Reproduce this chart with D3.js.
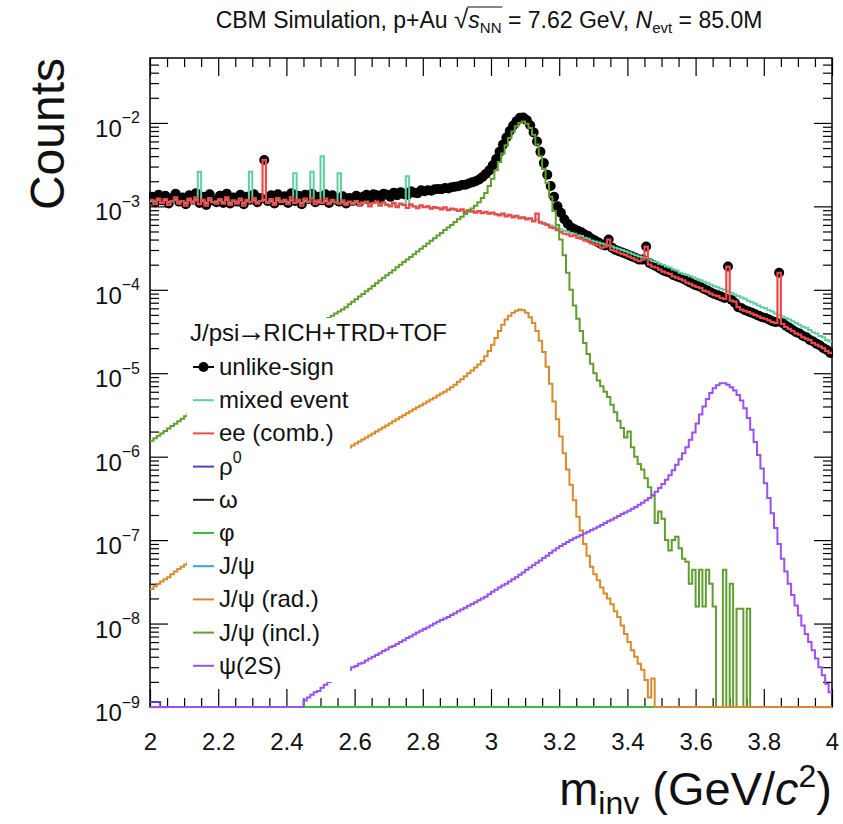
<!DOCTYPE html>
<html><head><meta charset="utf-8">
<script src="https://cdn.jsdelivr.net/npm/d3@7"></script>
<style>
body{margin:0;background:#fff}
svg{display:block}
text{font-family:"Liberation Sans",Arial,Helvetica,sans-serif;fill:#111}
</style>
</head><body>
<svg id="chart" width="843" height="824"></svg>
<script>
// ---------------- DATA ----------------
// invariant-mass histogram: 200 bins of 0.01 GeV/c^2 starting at 2.00
const binLow = 2.0, binWidth = 0.01, nBins = 200;

const unlikeSign = [
1.30e-3,1.12e-3,1.38e-3,1.18e-3,1.34e-3,1.08e-3,1.26e-3,1.42e-3,1.14e-3,1.28e-3,
1.06e-3,1.36e-3,1.20e-3,1.44e-3,1.10e-3,1.30e-3,1.04e-3,1.40e-3,1.18e-3,1.12e-3,
1.34e-3,1.10e-3,1.42e-3,1.08e-3,1.28e-3,1.14e-3,1.38e-3,1.06e-3,1.30e-3,1.20e-3,
1.40e-3,1.12e-3,1.26e-3,3.6e-3,1.16e-3,1.36e-3,1.08e-3,1.40e-3,1.18e-3,1.32e-3,
1.10e-3,1.44e-3,1.16e-3,1.34e-3,1.06e-3,1.38e-3,1.22e-3,1.42e-3,1.12e-3,1.30e-3,
1.18e-3,1.40e-3,1.10e-3,1.36e-3,1.20e-3,1.14e-3,1.32e-3,1.08e-3,1.26e-3,1.16e-3,
1.34e-3,1.14e-3,1.30e-3,1.38e-3,1.18e-3,1.40e-3,1.36e-3,1.24e-3,1.42e-3,1.38e-3,
1.30e-3,1.46e-3,1.36e-3,1.48e-3,1.40e-3,1.38e-3,1.52e-3,1.46e-3,1.44e-3,1.56e-3,
1.52e-3,1.56e-3,1.54e-3,1.60e-3,1.62e-3,1.60e-3,1.66e-3,1.64e-3,1.70e-3,1.72e-3,
1.74e-3,1.80e-3,1.82e-3,1.88e-3,1.94e-3,2.00e-3,2.10e-3,2.25e-3,2.45e-3,2.70e-3,
3.1e-3,3.7e-3,4.5e-3,5.5e-3,6.7e-3,8.0e-3,9.3e-3,1.05e-2,1.15e-2,1.16e-2,
1.08e-2,9.4e-3,7.7e-3,6.0e-3,4.5e-3,3.3e-3,2.4e-3,1.75e-3,1.3e-3,1.0e-3,
8.4e-4,7.0e-4,6.2e-4,5.6e-4,5.3e-4,5.1e-4,4.9e-4,4.6e-4,4.4e-4,4.1e-4,
3.9e-4,3.7e-4,3.5e-4,3.4e-4,4.0e-4,3.2e-4,3.0e-4,2.9e-4,2.8e-4,2.7e-4,
2.6e-4,2.5e-4,2.4e-4,2.3e-4,2.3e-4,3.3e-4,2.1e-4,2.0e-4,1.9e-4,1.8e-4,
1.7e-4,1.65e-4,1.6e-4,1.5e-4,1.45e-4,1.4e-4,1.35e-4,1.28e-4,1.22e-4,1.16e-4,
1.12e-4,1.08e-4,1.02e-4,9.8e-5,9.3e-5,8.9e-5,8.6e-5,8.3e-5,8.0e-5,1.9e-4,
7.6e-5,7.0e-5,6.2e-5,6.0e-5,5.7e-5,5.5e-5,5.3e-5,5.1e-5,4.9e-5,4.7e-5,
4.6e-5,4.4e-5,4.2e-5,4.1e-5,1.6e-4,4.0e-5,3.7e-5,3.5e-5,3.3e-5,3.1e-5,
3.0e-5,2.8e-5,2.7e-5,2.5e-5,2.4e-5,2.25e-5,2.15e-5,2.0e-5,1.9e-5,1.75e-5
];

const mixedEvent = [
1.16e-3,1.14e-3,1.20e-3,1.10e-3,1.18e-3,1.12e-3,1.14e-3,1.20e-3,1.12e-3,1.16e-3,
1.10e-3,1.18e-3,1.14e-3,1.20e-3,2.6e-3,1.16e-3,1.10e-3,1.18e-3,1.12e-3,1.14e-3,
1.18e-3,1.12e-3,1.20e-3,1.10e-3,1.16e-3,1.12e-3,1.18e-3,1.10e-3,1.16e-3,2.6e-3,
1.18e-3,1.12e-3,1.16e-3,1.20e-3,1.12e-3,1.16e-3,1.10e-3,1.18e-3,1.14e-3,1.16e-3,
1.12e-3,1.18e-3,2.5e-3,1.14e-3,1.10e-3,1.16e-3,1.12e-3,2.6e-3,1.14e-3,1.12e-3,
4.0e-3,1.16e-3,1.10e-3,1.14e-3,1.12e-3,2.5e-3,1.12e-3,1.08e-3,1.12e-3,1.10e-3,
1.12e-3,1.08e-3,1.10e-3,1.12e-3,1.06e-3,1.10e-3,1.10e-3,1.06e-3,1.08e-3,1.06e-3,
1.04e-3,1.06e-3,1.02e-3,1.06e-3,1.04e-3,2.3e-3,1.02e-3,1.00e-3,0.98e-3,1.00e-3,
0.98e-3,0.99e-3,0.96e-3,0.97e-3,0.95e-3,0.94e-3,0.95e-3,0.92e-3,0.93e-3,0.91e-3,
0.90e-3,0.90e-3,0.88e-3,0.89e-3,0.87e-3,0.86e-3,0.86e-3,0.84e-3,0.85e-3,0.83e-3,
0.83e-3,0.81e-3,0.80e-3,0.80e-3,0.78e-3,0.78e-3,0.76e-3,0.76e-3,0.74e-3,0.73e-3,
0.72e-3,0.71e-3,0.68e-3,0.70e-3,0.66e-3,0.63e-3,0.61e-3,0.59e-3,0.57e-3,0.55e-3,
5.3e-4,5.1e-4,5.0e-4,4.8e-4,4.7e-4,4.5e-4,4.4e-4,4.2e-4,4.1e-4,3.9e-4,
3.8e-4,3.7e-4,3.6e-4,3.5e-4,3.4e-4,3.3e-4,3.2e-4,3.1e-4,3.0e-4,2.9e-4,
2.8e-4,2.7e-4,2.6e-4,2.5e-4,2.45e-4,2.4e-4,2.3e-4,2.2e-4,2.15e-4,2.05e-4,
2.0e-4,1.9e-4,1.85e-4,1.75e-4,1.7e-4,1.6e-4,1.55e-4,1.5e-4,1.45e-4,1.4e-4,
1.35e-4,1.3e-4,1.25e-4,1.2e-4,1.15e-4,1.1e-4,1.07e-4,1.03e-4,1.0e-4,9.6e-5,
9.2e-5,8.8e-5,8.4e-5,8.1e-5,7.8e-5,7.4e-5,7.1e-5,6.8e-5,6.5e-5,6.2e-5,
6.0e-5,5.7e-5,5.5e-5,5.2e-5,5.0e-5,4.8e-5,4.6e-5,4.4e-5,4.2e-5,4.0e-5,
3.8e-5,3.6e-5,3.5e-5,3.3e-5,3.1e-5,3.0e-5,2.8e-5,2.7e-5,2.5e-5,2.4e-5
];

const eeComb = [
1.20e-3,1.06e-3,1.24e-3,1.10e-3,1.22e-3,1.04e-3,1.16e-3,1.28e-3,1.08e-3,1.16e-3,
1.02e-3,1.24e-3,1.10e-3,1.28e-3,1.06e-3,1.20e-3,1.02e-3,1.26e-3,1.12e-3,1.08e-3,
1.22e-3,1.08e-3,1.28e-3,1.04e-3,1.18e-3,1.08e-3,1.24e-3,1.02e-3,1.20e-3,1.12e-3,
1.26e-3,1.08e-3,1.16e-3,3.6e-3,1.10e-3,1.22e-3,1.04e-3,1.26e-3,1.12e-3,1.20e-3,
1.06e-3,1.28e-3,1.10e-3,1.20e-3,1.02e-3,1.24e-3,1.14e-3,1.26e-3,1.06e-3,1.18e-3,
1.10e-3,1.24e-3,1.06e-3,1.20e-3,1.12e-3,1.08e-3,1.18e-3,1.04e-3,1.14e-3,1.06e-3,
1.16e-3,1.02e-3,1.12e-3,1.14e-3,1.00e-3,1.10e-3,1.14e-3,1.02e-3,1.12e-3,1.04e-3,
1.00e-3,1.10e-3,0.98e-3,1.08e-3,1.04e-3,0.96e-3,1.06e-3,1.00e-3,0.95e-3,1.03e-3,
0.98e-3,1.00e-3,0.94e-3,0.98e-3,0.96e-3,0.92e-3,0.97e-3,0.90e-3,0.94e-3,0.92e-3,
0.88e-3,0.92e-3,0.86e-3,0.90e-3,0.87e-3,0.84e-3,0.88e-3,0.83e-3,0.86e-3,0.82e-3,
0.84e-3,0.80e-3,0.78e-3,0.82e-3,0.76e-3,0.79e-3,0.74e-3,0.77e-3,0.72e-3,0.74e-3,
0.70e-3,0.72e-3,0.66e-3,0.82e-3,0.64e-3,0.62e-3,0.60e-3,0.56e-3,0.55e-3,0.52e-3,
4.9e-4,4.7e-4,4.6e-4,4.4e-4,4.5e-4,4.2e-4,4.1e-4,3.9e-4,3.8e-4,3.6e-4,
3.5e-4,3.4e-4,3.2e-4,3.3e-4,4.0e-4,3.0e-4,2.9e-4,2.8e-4,2.7e-4,2.6e-4,
2.5e-4,2.4e-4,2.3e-4,2.2e-4,2.3e-4,3.3e-4,2.0e-4,1.9e-4,1.85e-4,1.75e-4,
1.65e-4,1.6e-4,1.55e-4,1.45e-4,1.4e-4,1.35e-4,1.3e-4,1.22e-4,1.18e-4,1.12e-4,
1.08e-4,1.05e-4,9.8e-5,9.5e-5,9.0e-5,8.6e-5,8.4e-5,8.0e-5,7.8e-5,1.9e-4,
7.4e-5,7.2e-5,6.2e-5,5.8e-5,5.6e-5,5.4e-5,5.2e-5,5.0e-5,4.8e-5,4.6e-5,
4.5e-5,4.3e-5,4.1e-5,4.0e-5,1.6e-4,3.9e-5,3.6e-5,3.4e-5,3.2e-5,3.0e-5,
2.9e-5,2.7e-5,2.6e-5,2.5e-5,2.3e-5,2.2e-5,2.1e-5,2.0e-5,1.85e-5,1.75e-5
];

// cocktail components (empty histograms have no entries in this window)
const rho0 = [1.15e-9,1.15e-9,1.15e-9];
const omegaMeson = [];
const phiMeson = [];
const jpsi = [];

const jpsiRad = [
2.6e-8,2.8e-8,3.0e-8,3.2e-8,3.4e-8,3.6e-8,3.9e-8,4.2e-8,4.5e-8,4.8e-8,
5.1e-8,5.5e-8,5.9e-8,6.3e-8,6.7e-8,7.2e-8,7.7e-8,8.2e-8,8.8e-8,9.4e-8,
1.0e-7,1.07e-7,1.15e-7,1.23e-7,1.31e-7,1.4e-7,1.5e-7,1.6e-7,1.72e-7,1.84e-7,
1.97e-7,2.1e-7,2.25e-7,2.4e-7,2.57e-7,2.75e-7,2.95e-7,3.15e-7,3.37e-7,3.6e-7,
3.86e-7,4.13e-7,4.4e-7,4.7e-7,5.0e-7,5.4e-7,5.8e-7,6.2e-7,6.6e-7,7.1e-7,
7.6e-7,8.1e-7,8.7e-7,9.3e-7,9.9e-7,1.06e-6,1.13e-6,1.21e-6,1.29e-6,1.36e-6,
1.44e-6,1.52e-6,1.61e-6,1.7e-6,1.8e-6,1.9e-6,2.0e-6,2.12e-6,2.24e-6,2.37e-6,
2.5e-6,2.65e-6,2.8e-6,2.96e-6,3.13e-6,3.31e-6,3.5e-6,3.7e-6,3.9e-6,4.1e-6,
4.35e-6,4.6e-6,4.85e-6,5.1e-6,5.4e-6,5.7e-6,6.0e-6,6.4e-6,6.8e-6,7.3e-6,
7.9e-6,8.5e-6,9.2e-6,1.0e-5,1.08e-5,1.17e-5,1.27e-5,1.4e-5,1.6e-5,1.85e-5,
2.2e-5,2.65e-5,3.2e-5,3.8e-5,4.4e-5,4.9e-5,5.3e-5,5.6e-5,5.8e-5,5.7e-5,
5.3e-5,4.7e-5,4.0e-5,3.2e-5,2.45e-5,1.8e-5,1.2e-5,7.5e-6,4.6e-6,2.8e-6,
1.75e-6,1.1e-6,7.0e-7,4.6e-7,3.0e-7,1.9e-7,1.3e-7,9.0e-8,6.5e-8,4.8e-8,
3.9e-8,3.3e-8,2.7e-8,2.3e-8,2.0e-8,1.7e-8,1.4e-8,1.2e-8,9.5e-9,7.5e-9,
6.0e-9,4.8e-9,4.0e-9,3.3e-9,2.8e-9,2.1e-9,1.3e-9,2.2e-9,0,0,
0,0,0,0,0,0,0,0,0,0,
0,0,0,0,0,0,0,0,0,0,
0,0,0,0,0,0,0,0,0,0,
0,0,0,0,0,0,0,0,0,0,
0,0,0,0,0,0,0,0,0,0
];

const jpsiIncl = [
1.55e-6,1.66e-6,1.78e-6,1.9e-6,2.03e-6,2.17e-6,2.33e-6,2.49e-6,2.66e-6,2.85e-6,
3.05e-6,3.26e-6,3.5e-6,3.7e-6,4.0e-6,4.3e-6,4.6e-6,4.9e-6,5.2e-6,5.6e-6,
6.0e-6,6.4e-6,6.8e-6,7.3e-6,7.8e-6,8.3e-6,8.8e-6,9.4e-6,1.0e-5,1.07e-5,
1.14e-5,1.22e-5,1.3e-5,1.38e-5,1.47e-5,1.57e-5,1.67e-5,1.78e-5,1.9e-5,2.03e-5,
2.16e-5,2.3e-5,2.45e-5,2.6e-5,2.8e-5,2.95e-5,3.15e-5,3.36e-5,3.58e-5,3.8e-5,
4.05e-5,4.3e-5,4.6e-5,4.9e-5,5.2e-5,5.5e-5,5.8e-5,6.2e-5,6.7e-5,7.2e-5,
7.7e-5,8.3e-5,8.9e-5,9.6e-5,1.03e-4,1.11e-4,1.2e-4,1.29e-4,1.39e-4,1.49e-4,
1.6e-4,1.72e-4,1.86e-4,2.0e-4,2.15e-4,2.3e-4,2.48e-4,2.67e-4,2.88e-4,3.1e-4,
3.33e-4,3.58e-4,3.86e-4,4.15e-4,4.47e-4,4.8e-4,5.2e-4,5.6e-4,6.0e-4,6.5e-4,
7.0e-4,7.5e-4,8.1e-4,8.7e-4,9.4e-4,1.02e-3,1.12e-3,1.26e-3,1.45e-3,1.75e-3,
2.15e-3,2.7e-3,3.4e-3,4.3e-3,5.4e-3,6.6e-3,7.9e-3,9.1e-3,1.0e-2,1.04e-2,
9.8e-3,8.7e-3,7.2e-3,5.5e-3,4.0e-3,2.8e-3,1.9e-3,1.3e-3,8.8e-4,6.0e-4,
4.0e-4,2.6e-4,1.6e-4,1.0e-4,6.5e-5,4.5e-5,3.2e-5,2.3e-5,1.7e-5,1.3e-5,
1.0e-5,8.2e-6,7.0e-6,6.0e-6,5.2e-6,4.2e-6,3.4e-6,2.7e-6,2.2e-6,1.7e-6,
2.0e-6,1.3e-6,1.0e-6,8.2e-7,7.0e-7,5.5e-7,4.3e-7,3.4e-7,1.6e-7,2.2e-7,
1.8e-7,1.0e-7,7.5e-8,1.0e-7,1.1e-7,8.0e-8,6.0e-8,5.5e-8,3.0e-8,4.4e-8,
1.6e-8,4.4e-8,1.6e-8,4.4e-8,3.0e-8,1.6e-8,0,0,4.4e-8,0,
3.0e-8,0,1.5e-8,1.5e-8,0,1.5e-8,0,0,0,0,
0,0,0,0,0,0,0,0,0,0,
0,0,0,0,0,0,0,0,0,0
];

const psi2S = [
0,0,0,0,0,0,0,0,0,0,
0,0,0,0,0,0,0,0,0,0,
0,0,0,0,0,0,0,0,0,0,
0,0,0,0,0,0,0,0,0,0,
0,0,0,0,0,1.2e-9,1.3e-9,1.4e-9,1.5e-9,1.55e-9,
1.7e-9,1.85e-9,2.0e-9,2.1e-9,2.2e-9,2.35e-9,2.5e-9,2.6e-9,2.8e-9,3.0e-9,
3.1e-9,3.3e-9,3.4e-9,3.6e-9,3.8e-9,4.0e-9,4.2e-9,4.4e-9,4.7e-9,4.9e-9,
5.2e-9,5.4e-9,5.7e-9,6.0e-9,6.3e-9,6.7e-9,7.0e-9,7.4e-9,7.8e-9,8.2e-9,
8.6e-9,9.0e-9,9.5e-9,1.0e-8,1.05e-8,1.1e-8,1.15e-8,1.2e-8,1.27e-8,1.33e-8,
1.4e-8,1.47e-8,1.55e-8,1.63e-8,1.72e-8,1.8e-8,1.9e-8,2.0e-8,2.1e-8,2.25e-8,
2.4e-8,2.55e-8,2.7e-8,2.85e-8,3.0e-8,3.2e-8,3.4e-8,3.6e-8,3.85e-8,4.1e-8,
4.4e-8,4.7e-8,5.0e-8,5.35e-8,5.7e-8,6.1e-8,6.5e-8,7.0e-8,7.5e-8,8.0e-8,
8.5e-8,9.0e-8,9.5e-8,1.0e-7,1.05e-7,1.1e-7,1.15e-7,1.2e-7,1.26e-7,1.32e-7,
1.38e-7,1.45e-7,1.52e-7,1.6e-7,1.68e-7,1.76e-7,1.85e-7,1.95e-7,2.05e-7,2.15e-7,
2.25e-7,2.37e-7,2.5e-7,2.65e-7,2.8e-7,3.0e-7,3.2e-7,3.5e-7,3.8e-7,4.2e-7,
4.7e-7,5.3e-7,6.0e-7,6.9e-7,8.0e-7,9.3e-7,1.1e-6,1.3e-6,1.6e-6,1.95e-6,
2.5e-6,3.2e-6,4.0e-6,4.9e-6,5.8e-6,6.6e-6,7.2e-6,7.6e-6,7.6e-6,7.3e-6,
6.8e-6,6.2e-6,5.5e-6,4.7e-6,3.8e-6,2.9e-6,2.1e-6,1.5e-6,1.05e-6,7.2e-7,
4.8e-7,3.2e-7,2.1e-7,1.4e-7,9.0e-8,6.0e-8,4.2e-8,3.0e-8,2.2e-8,1.65e-8,
1.25e-8,9.5e-9,7.5e-9,6.0e-9,4.8e-9,3.8e-9,3.0e-9,2.4e-9,1.9e-9,1.5e-9
];

const xMajorTicks = [2, 2.2, 2.4, 2.6, 2.8, 3, 3.2, 3.4, 3.6, 3.8, 4];
const yDecadeTicks = [1e-9, 1e-8, 1e-7, 1e-6, 1e-5, 1e-4, 1e-3, 1e-2];
const yExponents = [-9, -8, -7, -6, -5, -4, -3, -2];
const legendNames = ["unlike-sign","mixed event","ee (comb.)","\u03c1","\u03c9","\u03c6","J/\u03c8","J/\u03c8 (rad.)","J/\u03c8 (incl.)","\u03c8(2S)"];

// ---------------- LAYOUT / STYLE ----------------
const L = 150, R = 832, T = 58, B = 707;
const yMin = 1e-9, yMax = 0.06;
const svg = d3.select("#chart");
const x = d3.scaleLinear().domain([2, 4]).range([L, R]);
const y = d3.scaleLog().domain([yMin, yMax]).range([B, T]);

const col = {
  mixed: "#5fcf9f", ee: "#ef4a4a", rho: "#4b45c8", omega: "#222222",
  phi: "#3dbb3d", jpsi: "#3aa0e0", rad: "#d98a2b", incl: "#5f9e2f", psi2s: "#9b50f0"
};
const FONT = '"Liberation Sans",Arial,sans-serif';

// frame
svg.append("rect").attr("x", L).attr("y", T).attr("width", R - L).attr("height", B - T)
  .attr("fill", "none").attr("stroke", "#000").attr("stroke-width", 1.5);

// minor tick values
const xMinor = d3.range(0, 41).map(i => 2 + i * 0.05).filter(v => Math.abs(v*5 - Math.round(v*5)) > 1e-6);
const yMinor = [];
for (let e = -9; e <= -2; e++) for (let k = 2; k <= 9; k++) { const v = k * Math.pow(10, e); if (v < yMax) yMinor.push(v); }

function styleAxis(g) {
  g.select(".domain").remove();
  g.selectAll(".tick line").attr("stroke", "#000").attr("stroke-width", 1.2);
}
// bottom
svg.append("g").attr("transform", `translate(0,${B})`)
  .call(d3.axisBottom(x).tickValues(xMajorTicks).tickSize(-18).tickSizeOuter(0).tickPadding(26)
    .tickFormat(d => String(+d.toFixed(1))))
  .call(styleAxis)
  .call(g => g.selectAll("text").attr("font-size", 24).attr("fill", "#111").style("font-family", FONT));
svg.append("g").attr("transform", `translate(0,${B})`)
  .call(d3.axisBottom(x).tickValues(xMinor).tickSize(-9).tickSizeOuter(0).tickFormat(""))
  .call(styleAxis);
// top
svg.append("g").attr("transform", `translate(0,${T})`)
  .call(d3.axisTop(x).tickValues(xMajorTicks).tickSize(-18).tickSizeOuter(0).tickFormat(""))
  .call(styleAxis);
svg.append("g").attr("transform", `translate(0,${T})`)
  .call(d3.axisTop(x).tickValues(xMinor).tickSize(-9).tickSizeOuter(0).tickFormat(""))
  .call(styleAxis);
// left
const yAx = svg.append("g").attr("transform", `translate(${L},0)`)
  .call(d3.axisLeft(y).tickValues(yDecadeTicks).tickSize(-18).tickSizeOuter(0).tickPadding(10).tickFormat(""))
  .call(styleAxis);
yAx.selectAll(".tick text").each(function(d, i) {
  const t = d3.select(this).attr("font-size", 24).attr("dy", null).attr("y", 13.5)
    .style("font-family", FONT).attr("fill", "#111");
  t.append("tspan").text("10");
  t.append("tspan").attr("font-size", 16).attr("dy", -13.5).text("\u2212" + Math.abs(yExponents[i]));
});
svg.append("g").attr("transform", `translate(${L},0)`)
  .call(d3.axisLeft(y).tickValues(yMinor).tickSize(-9).tickSizeOuter(0).tickFormat(""))
  .call(styleAxis);
// right
svg.append("g").attr("transform", `translate(${R},0)`)
  .call(d3.axisRight(y).tickValues(yDecadeTicks).tickSize(-18).tickSizeOuter(0).tickFormat(""))
  .call(styleAxis);
svg.append("g").attr("transform", `translate(${R},0)`)
  .call(d3.axisRight(y).tickValues(yMinor).tickSize(-9).tickSizeOuter(0).tickFormat(""))
  .call(styleAxis);

// clip
svg.append("clipPath").attr("id", "plotclip").append("rect")
  .attr("x", L - 1).attr("y", T).attr("width", R - L + 2).attr("height", B - T + 2.5);
const plot = svg.append("g").attr("clip-path", "url(#plotclip)");

function histPoints(vals) {
  const pts = [];
  for (let i = 0; i < nBins; i++) {
    const v = vals[i] || 0;
    const vv = v > yMin ? v : yMin;
    pts.push([binLow + i * binWidth, vv], [binLow + (i + 1) * binWidth, vv]);
  }
  return pts;
}
const line = d3.line().x(d => x(d[0])).y(d => y(d[1]));
function drawHist(vals, color, w) {
  plot.append("path").attr("d", line(histPoints(vals))).attr("fill", "none")
    .attr("stroke", color).attr("stroke-width", w).attr("stroke-linejoin", "miter");
}

// unlike-sign markers
plot.append("g").selectAll("circle")
  .data(unlikeSign.map((v, i) => ({ m: binLow + (i + 0.5) * binWidth, v })).filter(d => d.v > 0))
  .join("circle").attr("cx", d => x(d.m)).attr("cy", d => y(d.v)).attr("r", 5).attr("fill", "#000");

drawHist(mixedEvent, col.mixed, 2);
drawHist(eeComb, col.ee, 2.2);
drawHist(rho0, col.rho, 2);
drawHist(omegaMeson, col.omega, 2);
drawHist(jpsi, col.jpsi, 2);
drawHist(phiMeson, col.phi, 2.2);
drawHist(jpsiIncl, col.incl, 2);
drawHist(jpsiRad, col.rad, 2);
drawHist(psi2S, col.psi2s, 2);

// legend
svg.append("rect").attr("x", 187).attr("y", 318).attr("width", 163).attr("height", 364).attr("fill", "#fff");
const lg = svg.append("g").style("font-family", FONT);
const hdr = lg.append("text").attr("x", 190).attr("y", 341).attr("font-size", 24);
hdr.append("tspan").text("J/psi");
hdr.append("tspan").attr("font-size", 30).attr("dx", -3).text("\u2192");
hdr.append("tspan").attr("dx", -3).text("RICH+TRD+TOF");
const legColors = ["#000", col.mixed, col.ee, col.rho, col.omega, col.phi, col.jpsi, col.rad, col.incl, col.psi2s];
legendNames.forEach((name, i) => {
  const cy = 367 + i * 33.2;
  lg.append("line").attr("x1", 193).attr("x2", 214).attr("y1", cy).attr("y2", cy)
    .attr("stroke", legColors[i]).attr("stroke-width", 2);
  if (i === 0) lg.append("circle").attr("cx", 203.5).attr("cy", cy).attr("r", 5).attr("fill", "#000");
  const t = lg.append("text").attr("x", 219).attr("y", cy + 8).attr("font-size", 24);
  t.append("tspan").text(name);
  if (i === 3) t.append("tspan").attr("font-size", 16).attr("dy", -12).text("0");
});

// title
const title = svg.append("text").attr("x", 489).attr("y", 28).attr("text-anchor", "middle")
  .attr("font-size", 23);
title.append("tspan").text("CBM Simulation, p+Au ");
title.append("tspan").attr("font-size", 26).text("\u221a");
title.append("tspan").attr("font-style", "italic").text("s");
title.append("tspan").attr("font-size", 15).attr("dy", 5).text("NN");
title.append("tspan").attr("dy", -5).text(" = 7.62 GeV, ");
title.append("tspan").attr("font-style", "italic").text("N");
title.append("tspan").attr("font-size", 15).attr("dy", 5).text("evt");
title.append("tspan").attr("dy", -5).text(" = 85.0M");
{
  const node = title.node();
  const s1 = node.getExtentOfChar(24), rt = node.getExtentOfChar(21);
  svg.append("line").attr("x1", rt.x + rt.width - 1).attr("x2", s1.x + s1.width + 1)
    .attr("y1", rt.y + 3).attr("y2", rt.y + 3).attr("stroke", "#111").attr("stroke-width", 1.2);
}

// axis titles
const xt = svg.append("text").attr("x", 832).attr("y", 805).attr("text-anchor", "end").attr("font-size", 47);
xt.append("tspan").text("m");
xt.append("tspan").attr("font-size", 32).attr("dy", 9).text("inv");
xt.append("tspan").attr("dy", -9).text(" (GeV/");
xt.append("tspan").attr("font-style", "italic").text("c");
xt.append("tspan").attr("font-size", 32).attr("dy", -18).text("2");
xt.append("tspan").attr("dy", 18).text(")");

svg.append("text").attr("transform", `translate(64,${T}) rotate(-90)`).attr("text-anchor", "end")
  .attr("font-size", 48).text("Counts");
</script>
</body></html>
